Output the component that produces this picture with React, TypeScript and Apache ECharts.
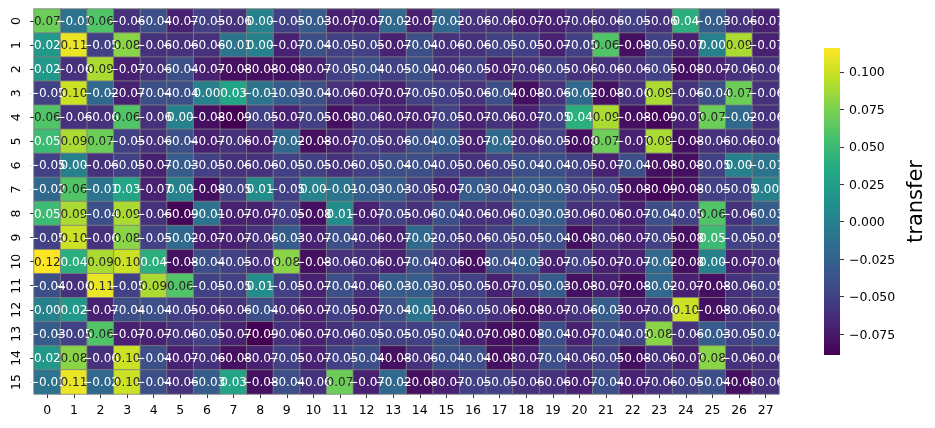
import React, { useEffect, useRef } from "react";
import * as echarts from "echarts";

const colLabels = ["0","1","2","3","4","5","6","7","8","9","10","11","12","13","14","15","16","17","18","19","20","21","22","23","24","25","26","27"];
const rowLabels = ["0","1","2","3","4","5","6","7","8","9","10","11","12","13","14","15"];

const row00 = [0.07, -0.01, 0.06, -0.06, -0.04, -0.07, -0.05, -0.06, 0.0, -0.05, -0.03, -0.07, -0.07, -0.02, -0.07, -0.02, -0.06, -0.06, -0.07, -0.07, -0.06, -0.06, -0.05, -0.06, 0.04, -0.03, -0.06, -0.07];
const row01 = [0.02, 0.11, -0.05, 0.08, -0.06, -0.06, -0.06, -0.01, 0.0, -0.07, -0.04, -0.05, -0.05, -0.07, -0.04, -0.06, -0.06, -0.05, -0.05, -0.07, -0.05, 0.06, -0.08, -0.05, -0.07, 0.0, 0.09, -0.07];
const row02 = [0.02, -0.06, 0.09, -0.07, -0.06, -0.04, -0.07, -0.08, -0.08, -0.08, -0.07, -0.05, -0.04, -0.05, -0.04, -0.06, -0.05, -0.07, -0.06, -0.05, -0.06, -0.06, -0.06, -0.05, -0.08, -0.07, -0.06, -0.06];
const row03 = [-0.05, 0.1, -0.02, -0.07, -0.04, -0.04, 0.0, 0.03, -0.01, -0.03, -0.04, -0.06, -0.07, -0.07, -0.05, -0.05, -0.06, -0.04, -0.08, -0.06, -0.02, -0.08, -0.06, 0.09, -0.06, -0.04, 0.07, -0.06];
const row04 = [0.06, -0.06, -0.06, 0.06, -0.06, 0.0, -0.08, -0.089, -0.05, -0.07, -0.05, -0.08, -0.06, -0.07, -0.07, -0.05, -0.07, -0.06, -0.07, -0.05, 0.04, 0.09, -0.08, -0.087, -0.07, 0.07, -0.02, -0.06];
const row05 = [0.05, 0.09, 0.07, -0.05, -0.06, -0.04, -0.07, -0.06, -0.07, -0.02, -0.08, -0.07, -0.05, -0.06, -0.04, -0.03, -0.07, -0.02, -0.06, -0.05, -0.08, 0.07, -0.07, 0.09, -0.08, -0.06, -0.06, -0.06];
const row06 = [-0.05, 0.0, -0.06, -0.05, -0.07, -0.03, -0.05, -0.06, -0.06, -0.05, -0.05, -0.06, -0.05, -0.04, -0.04, -0.05, -0.06, -0.05, -0.04, -0.04, -0.05, -0.07, -0.04, -0.08, -0.08, -0.05, 0.0, -0.01];
const row07 = [-0.02, 0.06, -0.01, 0.03, -0.07, 0.0, -0.08, -0.05, 0.01, -0.05, 0.0, -0.01, -0.03, -0.03, -0.05, -0.07, -0.03, -0.04, -0.03, -0.03, -0.05, -0.05, -0.08, -0.087, -0.08, -0.05, -0.05, 0.0];
const row08 = [0.05, 0.09, -0.04, 0.09, -0.06, -0.087, -0.01, -0.07, -0.07, -0.05, -0.08, 0.01, -0.07, -0.05, -0.06, -0.04, -0.06, -0.06, -0.03, -0.03, -0.06, -0.06, -0.07, -0.04, -0.05, 0.06, -0.06, -0.03];
const row09 = [-0.05, 0.1, -0.06, 0.08, -0.05, -0.02, -0.07, -0.07, -0.06, -0.03, -0.07, -0.04, -0.06, -0.07, -0.02, -0.05, -0.06, -0.05, -0.05, -0.04, -0.08, -0.06, -0.07, -0.05, -0.08, 0.05, -0.05, -0.05];
const row10 = [0.116, 0.04, 0.09, 0.1, 0.04, -0.08, -0.04, -0.05, -0.06, 0.08, -0.08, -0.06, -0.06, -0.07, -0.04, -0.06, -0.08, -0.04, -0.03, -0.07, -0.05, -0.07, -0.07, -0.02, -0.08, 0.0, -0.07, -0.06];
const row11 = [-0.04, -0.06, 0.11, -0.05, 0.09, 0.06, -0.05, -0.05, 0.01, -0.05, -0.07, -0.04, -0.06, -0.03, -0.03, -0.05, -0.05, -0.07, -0.05, -0.03, -0.08, -0.07, -0.08, -0.02, -0.07, -0.08, -0.06, -0.05];
const row12 = [0.0, 0.02, -0.07, -0.04, -0.04, -0.05, -0.06, -0.06, -0.04, -0.06, -0.07, -0.05, -0.07, -0.04, -0.01, -0.06, -0.05, -0.06, -0.08, -0.07, -0.06, -0.03, -0.07, -0.06, 0.1, -0.08, -0.06, -0.06];
const row13 = [-0.03, -0.05, 0.06, -0.07, -0.07, -0.06, -0.05, -0.07, -0.089, -0.06, -0.07, -0.06, -0.05, -0.05, -0.05, -0.04, -0.07, -0.08, -0.08, -0.04, -0.07, -0.04, -0.05, 0.08, -0.06, -0.03, -0.05, -0.04];
const row14 = [0.02, 0.08, -0.06, 0.1, -0.04, -0.07, -0.06, -0.08, -0.07, -0.05, -0.07, -0.05, -0.04, -0.08, -0.06, -0.04, -0.04, -0.08, -0.07, -0.04, -0.06, -0.05, -0.08, -0.06, -0.07, 0.08, -0.06, -0.06];
const row15 = [-0.01, 0.11, -0.02, 0.1, -0.04, -0.06, -0.03, 0.03, -0.08, -0.04, -0.06, 0.07, -0.07, -0.02, -0.08, -0.07, -0.05, -0.05, -0.06, -0.06, -0.07, -0.04, -0.07, -0.06, -0.05, -0.04, -0.08, -0.06];

const rows = [row00, row01, row02, row03, row04, row05, row06, row07, row08, row09, row10, row11, row12, row13, row14, row15];

const colorbarTicks = [-0.075, -0.05, -0.025, 0, 0.025, 0.05, 0.075, 0.1];
const colorbarName = "transfer";

const viridis = ["#440154", "#482475", "#414487", "#355f8d", "#2a788e", "#21918c", "#22a884", "#44bf70", "#7ad151", "#bddf26", "#fde725"];

function hexToRgb(h: string) {
  return [parseInt(h.slice(1, 3), 16), parseInt(h.slice(3, 5), 16), parseInt(h.slice(5, 7), 16)];
}
function interp(t: number) {
  const tt = Math.max(0, Math.min(1, t)) * (viridis.length - 1);
  const i = Math.min(viridis.length - 2, Math.floor(tt));
  const f = tt - i;
  const a = hexToRgb(viridis[i]);
  const b = hexToRgb(viridis[i + 1]);
  return [0, 1, 2].map((k) => a[k] + (b[k] - a[k]) * f);
}
function relLum(rgb: number[]) {
  const lin = rgb.map((c) => {
    const v = c / 255;
    return v <= 0.03928 ? v / 12.92 : Math.pow((v + 0.055) / 1.055, 2.4);
  });
  return 0.2126 * lin[0] + 0.7152 * lin[1] + 0.0722 * lin[2];
}
function fmt(v: number, d: number) {
  return v.toFixed(d).replace("-", "\u2212");
}

export default function App() {
  const ref = useRef<HTMLDivElement>(null);
  useEffect(() => {
    if (!ref.current) return;
    const chart = echarts.init(ref.current, undefined, { renderer: "svg" });
    const all = rows.flat();
    const vmin = Math.min(...all);
    const vmax = Math.max(...all);
    const data: any[] = [];
    rows.forEach((row, r) =>
      row.forEach((v, c) => {
        const lum = relLum(interp((v - vmin) / (vmax - vmin)));
        data.push({ value: [c, r, v], label: { color: lum > 0.408 ? "#262626" : "#ffffff" } });
      })
    );
    const tickStyle = { show: true, alignWithLabel: true, length: 4, lineStyle: { color: "#000", width: 0.8 } };
    const option: any = {
      animation: false,
      textStyle: { fontFamily: "DejaVu Sans" },
      grid: [
        { left: 34, top: 9, width: 745, height: 385 },
        { left: 824, top: 48, width: 16, height: 307 },
      ],
      xAxis: [
        {
          type: "category",
          gridIndex: 0,
          data: colLabels,
          axisLine: { show: false },
          axisTick: tickStyle,
          axisLabel: { color: "#000", fontSize: 12.5, margin: 9, interval: 0 },
          splitLine: { show: false },
        },
        { type: "category", gridIndex: 1, data: ["c"], show: false },
      ],
      yAxis: [
        {
          type: "category",
          gridIndex: 0,
          data: rowLabels,
          inverse: true,
          axisLine: { show: false },
          axisTick: tickStyle,
          axisLabel: { color: "#000", fontSize: 12.5, margin: 12, rotate: 90, interval: 0 },
          splitLine: { show: false },
        },
        {
          type: "value",
          gridIndex: 1,
          position: "right",
          min: vmin,
          max: vmax,
          axisLine: { show: false },
          axisTick: { show: true, length: 4, customValues: colorbarTicks, lineStyle: { color: "#000", width: 0.8 } },
          axisLabel: { customValues: colorbarTicks, formatter: (v: number) => fmt(v, 3), color: "#000", fontSize: 12.5, margin: 9 },
          splitLine: { show: false },
          name: colorbarName,
          nameLocation: "middle",
          nameRotate: 90,
          nameGap: 64,
          nameTextStyle: { fontSize: 21, color: "#000" },
        },
      ],
      visualMap: {
        show: false,
        type: "continuous",
        min: vmin,
        max: vmax,
        dimension: 2,
        seriesIndex: 0,
        inRange: { color: viridis },
      },
      graphic: [
        {
          type: "rect",
          shape: { x: 824, y: 48, width: 16, height: 307 },
          style: {
            fill: new echarts.graphic.LinearGradient(
              0, 1, 0, 0,
              viridis.map((c, i) => ({ offset: i / (viridis.length - 1), color: c }))
            ),
          },
          z: -1,
        },
      ],
      series: [
        {
          type: "heatmap",
          xAxisIndex: 0,
          yAxisIndex: 0,
          data,
          label: { show: true, fontSize: 12, formatter: (p: any) => fmt(p.value[2], 2) },
          itemStyle: { borderColor: "#808080", borderWidth: 0.8 },
          emphasis: { disabled: true },
        },
      ],
    };
    chart.setOption(option);
    return () => chart.dispose();
  }, []);
  return <div ref={ref} style={{ position: "fixed", left: 0, top: 0, width: 935, height: 428 }} />;
}
